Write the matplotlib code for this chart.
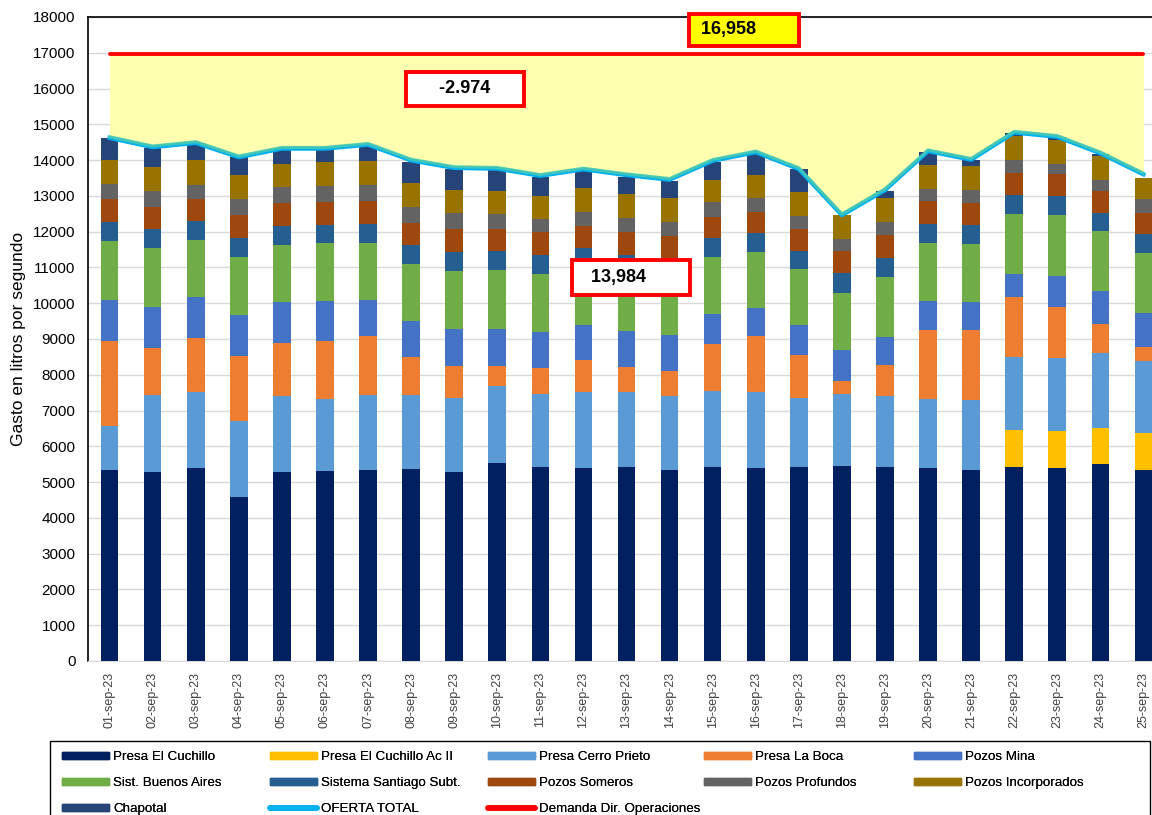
import matplotlib
matplotlib.use("Agg")
import matplotlib.pyplot as plt
from matplotlib.patches import Patch, Rectangle
from matplotlib.lines import Line2D
import numpy as np

plt.rcParams['font.family'] = ['Liberation Sans', 'DejaVu Sans']

dates = [f"{d:02d}-sep-23" for d in range(1, 26)]

cuchillo     = [5340, 5290, 5384, 4573, 5290, 5318, 5346, 5365, 5272, 5533, 5430, 5384, 5412, 5337, 5412, 5384, 5412, 5458, 5412, 5384, 5337, 5430, 5402, 5505, 5337]
cuchillo_ac2 = [0, 0, 0, 0, 0, 0, 0, 0, 0, 0, 0, 0, 0, 0, 0, 0, 0, 0, 0, 0, 0, 1025, 1025, 996, 1043]
cerro_prieto = [1239, 2134, 2133, 2133, 2106, 2003, 2096, 2077, 2086, 2151, 2040, 2133, 2105, 2068, 2133, 2133, 1946, 1994, 1993, 1937, 1965, 2049, 2040, 2096, 2003]
la_boca      = [2375, 1322, 1509, 1826, 1490, 1612, 1640, 1044, 895, 569, 727, 894, 708, 699, 1322, 1565, 1193, 372, 866, 1928, 1938, 1677, 1434, 811, 382]
pozos_mina   = [1137, 1137, 1136, 1137, 1137, 1127, 1006, 1015, 1015, 1015, 996, 978, 996, 996, 829, 782, 838, 857, 783, 820, 783, 643, 857, 922, 950]
buenos_aires = [1658, 1649, 1602, 1630, 1602, 1611, 1583, 1602, 1630, 1658, 1631, 1611, 1629, 1650, 1593, 1574, 1556, 1602, 1676, 1612, 1630, 1676, 1714, 1677, 1695]
santiago     = [521, 530, 522, 521, 531, 522, 550, 522, 522, 522, 521, 541, 495, 500, 531, 522, 521, 550, 541, 540, 521, 522, 522, 521, 531]
someros      = [643, 625, 624, 634, 633, 643, 633, 614, 642, 633, 643, 615, 643, 617, 587, 596, 615, 615, 624, 624, 615, 615, 624, 615, 587]
profundos    = [419, 447, 391, 447, 447, 447, 447, 448, 448, 401, 363, 391, 401, 400, 410, 382, 354, 344, 382, 354, 373, 354, 261, 298, 382]
incorporados = [662, 670, 690, 671, 662, 661, 671, 670, 661, 661, 643, 671, 661, 662, 633, 634, 661, 662, 652, 661, 670, 680, 680, 671, 587]
chapotal     = [614, 536, 493, 503, 412, 366, 447, 596, 568, 578, 540, 503, 484, 484, 503, 614, 643, 0, 214, 373, 168, 74, 74, 46, 0]

oferta_total = [14620, 14360, 14480, 14080, 14320, 14320, 14430, 13990, 13780, 13760, 13560, 13740, 13580, 13450, 13980, 14220, 13750, 12460, 13160, 14250, 14010, 14770, 14650, 14190, 13600]
demanda      = [16958] * 25

series = [
    ("Presa El Cuchillo", cuchillo, "#002060"),
    ("Presa El Cuchillo Ac II", cuchillo_ac2, "#FFC000"),
    ("Presa Cerro Prieto", cerro_prieto, "#5B9BD5"),
    ("Presa La Boca", la_boca, "#ED7D31"),
    ("Pozos Mina", pozos_mina, "#4472C4"),
    ("Sist. Buenos Aires", buenos_aires, "#70AD47"),
    ("Sistema Santiago Subt.", santiago, "#255E91"),
    ("Pozos Someros", someros, "#9E480E"),
    ("Pozos Profundos", profundos, "#636363"),
    ("Pozos Incorporados", incorporados, "#997300"),
    ("Chapotal", chapotal, "#264478"),
]

W, H = 1152, 815
fig = plt.figure(figsize=(W/100, H/100), dpi=100)
ax = fig.add_axes([88/W, 1-661/H, (1165-88)/W, 644/H])

x = np.arange(len(dates))
bottom = np.zeros(len(dates))
for name, vals, col in series:
    v = np.array(vals, dtype=float)
    ax.bar(x, v, 0.41, bottom=bottom, color=col, zorder=3, linewidth=0)
    bottom += v

# yellow gap area between supply and demand
ax.fill_between(x, oferta_total, demanda, color="#FFFFB0", zorder=2, linewidth=0)
ax.plot(x, demanda, color="#FF0000", lw=2.8, zorder=5, solid_capstyle='round')
ax.plot(x, oferta_total, color="#00B0F0", lw=3.0, zorder=5)
ax.plot(x, np.array(oferta_total) + 35, color="#4CC9B0", lw=2.2, zorder=6, alpha=0.85)

ax.set_ylim(0, 18000)
ax.set_xlim(-0.5, len(dates) - 0.5)
ax.set_yticks(np.arange(0, 18001, 1000))
ax.yaxis.grid(True, color="#D9D9D9", lw=1.0, zorder=0)
ax.set_axisbelow(True)
ax.set_xticks(x)
ax.set_xticklabels(dates, rotation=90, fontsize=9, color="#404040")
ax.tick_params(axis='x', length=0, pad=8)
ax.tick_params(axis='y', length=0, labelsize=11, pad=9)
ax.spines['right'].set_visible(False)
ax.spines['left'].set_color('black')
ax.spines['left'].set_linewidth(1.2)
ax.spines['top'].set_color('black')
ax.spines['top'].set_linewidth(1.2)
ax.spines['bottom'].set_color('#D9D9D9')
ax.set_ylabel("Gasto en litros por segundo", fontsize=12.5)
ax.yaxis.set_label_coords(-0.0575, 0.5)

# annotation boxes
ax.text(14.72, 17640, " 16,958       ", fontsize=13, fontweight='bold', ha='center', va='center',
        bbox=dict(boxstyle='square,pad=0.42', fc='#FFFF00', ec='#FF0000', lw=2.8), zorder=10, clip_on=False)
ax.text(8.25, 15990, "     -2.974     ", fontsize=13, fontweight='bold', ha='center', va='center',
        bbox=dict(boxstyle='square,pad=0.45', fc='white', ec='#FF0000', lw=2.8), zorder=10)
ax.text(12.1, 10730, "  13,984       ", fontsize=13, fontweight='bold', ha='center', va='center',
        bbox=dict(boxstyle='square,pad=0.5', fc='white', ec='#FF0000', lw=2.8), zorder=10)

# legend (5 columns placed like the reference, row-wise order)
handles = {}
for name, vals, col in series:
    handles[name] = Patch(facecolor=col, edgecolor=col)
handles["OFERTA TOTAL"] = Line2D([0], [0], color="#00B0F0", lw=4, solid_capstyle='round')
handles["Demanda Dir. Operaciones"] = Line2D([0], [0], color="#FF0000", lw=4, solid_capstyle='round')
columns = [["Presa El Cuchillo", "Sist. Buenos Aires", "Chapotal"],
           ["Presa El Cuchillo Ac II", "Sistema Santiago Subt.", "OFERTA TOTAL"],
           ["Presa Cerro Prieto", "Pozos Someros", "Demanda Dir. Operaciones"],
           ["Presa La Boca", "Pozos Profundos"],
           ["Pozos Mina", "Pozos Incorporados"]]
col_x = [62, 270, 488, 704, 914]
for cx, names in zip(col_x, columns):
    lg = fig.legend([handles[k] for k in names], names, loc='upper left',
                    bbox_to_anchor=(cx/W, 1-751/H), borderaxespad=0, borderpad=0,
                    frameon=False, prop={'size': 9.6},
                    handlelength=3.5, handleheight=0.45, handletextpad=0.35,
                    labelspacing=1.06)
    fig.add_artist(lg)
frame = Rectangle((50/W, 0 - 5/H), (1150-50)/W, (815-741+5)/H, transform=fig.transFigure,
                  fill=False, ec='black', lw=1.0)
fig.add_artist(frame)

fig.savefig("out.png", dpi=100)
